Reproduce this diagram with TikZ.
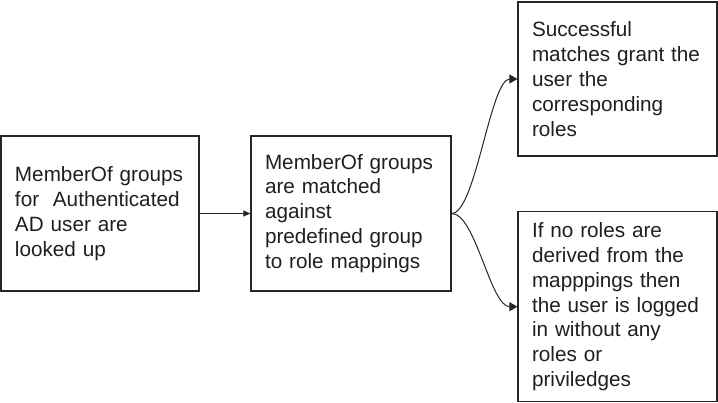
\documentclass[tikz,border=0pt]{standalone}
\usepackage{fontspec}
\setmainfont{Liberation Sans}
\usetikzlibrary{arrows.meta}
\begin{document}
\begin{tikzpicture}[x=1pt,y=-1pt,
  box/.style={draw=black!85, line width=1.2pt, rectangle, inner xsep=14pt, inner ysep=0pt,
    align=left, text=black!88, font=\fontsize{20.7}{24.9}\selectfont},
  conn/.style={draw=black!85, line width=1pt},
  tipA/.style={-{Triangle[length=7pt,width=6pt]}},
  tipB/.style={-{Triangle[length=8pt,width=9pt]}}]
\useasboundingbox (0,0) rectangle (718,403);
\node[box, minimum width=198pt, minimum height=155pt, text width=170pt] (b1) at (100,213.5)
  {MemberOf groups\\for\ \ Authenticated\\AD user are\\looked up};
\node[box, minimum width=200pt, minimum height=155pt, text width=172pt] (b2) at (351,213.5)
  {MemberOf groups\\are matched\\against\\predefined group\\to role mappings};
\node[box, minimum width=199pt, minimum height=154pt, text width=171pt] (b3) at (617.5,79)
  {Successful\\matches grant the\\user the\\corresponding\\roles};
\node[box, minimum width=199pt, minimum height=190pt, text width=171pt] (b4) at (617.5,306.7)
  {If no roles are\\derived from the\\mapppings then\\the user is logged\\in without any\\roles or\\priviledges};
\draw[conn, tipA] (b1.east) -- (b2.west);
\draw[conn, tipB] (b2.east) .. controls +(24,0) and +(-27,0) .. (b3.west);
\draw[conn, tipB] (b2.east) .. controls +(24,0) and +(-27,0) .. (b4.west);
\end{tikzpicture}
\end{document}
